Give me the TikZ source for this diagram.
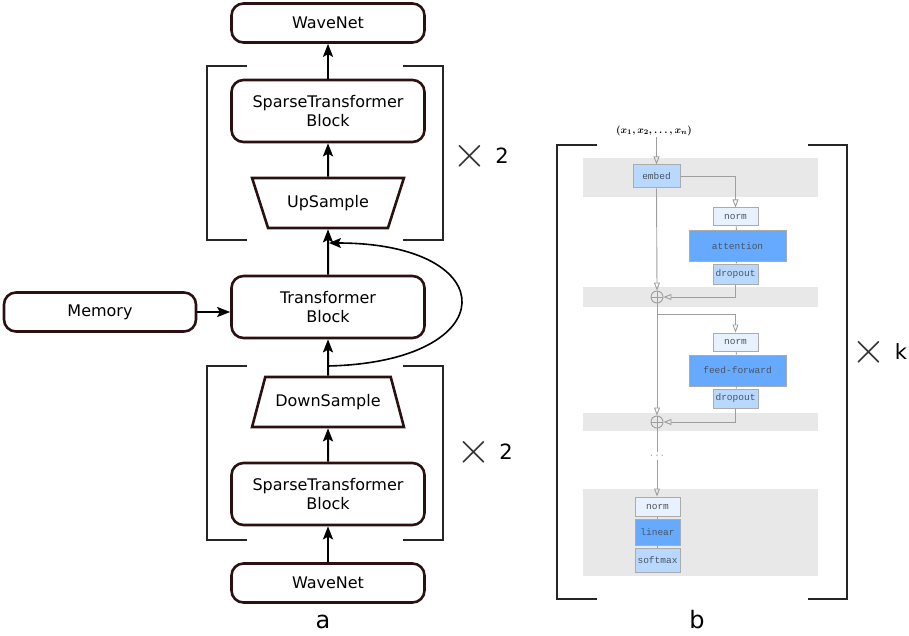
\documentclass[tikz,border=0pt]{standalone}
\usepackage{amsmath}
\usepackage[no-math]{fontspec}
\setmainfont{DejaVu Sans}
\newfontfamily\boxfont{Liberation Mono}
\usetikzlibrary{calc,positioning,arrows.meta,shapes.geometric}

\definecolor{blockedge}{HTML}{2A1010}
\definecolor{bandgray}{HTML}{E8E8E8}
\definecolor{boxline}{HTML}{ABABAB}
\definecolor{flowgray}{HTML}{9E9E9E}
\definecolor{labelgray}{HTML}{4A5560}
\definecolor{palebox}{HTML}{E8F2FF}
\definecolor{lightbox}{HTML}{B8D8FF}
\definecolor{midbox}{HTML}{66AAFF}

\newcommand{\inputseq}{{\boldmath$(x_1,x_2,\ldots,x_n)$}}
\newcommand{\bigtimes}{\scalebox{1.8}{$\times$}}

\tikzset{
  block/.style={draw=blockedge, line width=2.6pt, rounded corners=12pt, minimum width=193pt,
    minimum height=39pt, align=center, font=\fontsize{16}{19}\selectfont},
  tallblock/.style={block, minimum height=62pt},
  sampler/.style={draw=blockedge, line width=2.6pt, trapezium, trapezium stretches=true,
    trapezium angle=62, minimum width=152pt, minimum height=50pt, font=\fontsize{16}{19}\selectfont},
  arr/.style={line width=2pt, -{Stealth[length=13pt,width=10pt,inset=2.5pt]}},
  brack/.style={line width=1.7pt, draw=black!85},
  rbox/.style={draw=boxline, line width=1pt, inner sep=0pt, text=labelgray,
    font=\boxfont\fontsize{9.5}{11}\selectfont},
  smallbox/.style={rbox, minimum width=45pt, minimum height=18pt, fill=palebox},
  bigbox/.style={rbox, minimum width=97pt, minimum height=30pt, fill=midbox},
  flow/.style={draw=flowgray, line width=0.9pt},
  flowarr/.style={flow, -{Triangle[open,length=8pt,width=6pt]}},
  oplus/.style={circle, draw=flowgray, line width=0.9pt, minimum size=12pt, inner sep=0pt,
    path picture={\draw[flowgray, line width=0.9pt]
      (path picture bounding box.north) -- (path picture bounding box.south)
      (path picture bounding box.west) -- (path picture bounding box.east);}},
  timesmark/.style={font=\fontsize{24}{24}\selectfont, inner sep=0pt, text=black!80},
  countlabel/.style={font=\fontsize{21}{24}\selectfont, inner sep=0pt}
}

\begin{document}
\begin{tikzpicture}[x=1pt,y=-1pt]
  \useasboundingbox (0,0) rectangle (909,636);
  %\draw[color=gray,step=10pt, help lines,opacity=0.3] (0,0) grid (909,636); %help grids

  % ---- a: the stack
  \node[block] (wntop) at (328,23) {WaveNet};
  \node[tallblock] (sttop) at (328,111) {SparseTransformer\\Block};
  \node[sampler, shape border rotate=180] (up) at (328,203) {UpSample};
  \node[tallblock] (tb) at (328,307) {Transformer\\Block};
  \node[block, minimum width=192pt] (mem) at (100,312) {Memory};
  \node[sampler] (down) at (328,402) {DownSample};
  \node[tallblock] (stbot) at (328,494) {SparseTransformer\\Block};
  \node[block] (wnbot) at (328,583) {WaveNet};

  \draw[arr] (wnbot.north) -- (stbot.south);
  \draw[arr] (stbot.north) -- (down.south);
  \draw[arr] (down.north) -- (tb.south);
  \draw[arr] (tb.north) -- (up.south);
  \draw[arr] (up.north) -- (sttop.south);
  \draw[arr] (sttop.north) -- (wntop.south);
  \draw[arr] (mem.east) -- (mem.east -| tb.west);

  \coordinate (loopstart) at (328,366);
  \coordinate (loopend) at (329,243);
  \draw[line width=1.6pt, -{Stealth[length=12pt,width=10pt,inset=2.5pt]}]
    (loopstart) .. controls (505,362) and (505,243) .. (loopend);

  \draw[brack] (247,66) -- (207,66) -- (207,240) -- (247,240);
  \draw[brack] (403,66) -- (443,66) -- (443,240) -- (403,240);
  \draw[brack] (247,366) -- (207,366) -- (207,540) -- (247,540);
  \draw[brack] (403,366) -- (443,366) -- (443,540) -- (403,540);

  \node[timesmark] (timesup) at (470,156) {\bigtimes};
  \node[countlabel] (countup) at (502,156) {2};
  \node[timesmark] (timesdown) at (474,452) {\bigtimes};
  \node[countlabel] (countdown) at (506,452) {2};

  \node[font=\fontsize{24}{28}\selectfont, inner sep=0pt] (capa) at (323,622) {a};

  % ---- b: the layer
  \fill[bandgray] (583,158) rectangle (818,197);
  \fill[bandgray] (583,287) rectangle (818,307);
  \fill[bandgray] (583,413) rectangle (818,431);
  \fill[bandgray] (583,489) rectangle (818,576);

  \draw[brack] (597,145) -- (557,145) -- (557,599) -- (597,599);
  \draw[brack] (808,145) -- (847,145) -- (847,599) -- (808,599);

  \node[inner sep=1pt, font=\fontsize{10}{12}\selectfont] (xin) at (654,131) {\inputseq};
  \node[smallbox, minimum width=47pt, minimum height=23pt, fill=lightbox] (embed) at (656.5,176.5) {embed};
  \node[smallbox] (normA) at (735.5,217) {norm};
  \node[bigbox] (attn) at (737.5,246) {attention};
  \node[smallbox, minimum height=20pt, fill=lightbox] (dropA) at (735.5,274) {dropout};
  \node[oplus] (plusA) at (657,297) {};
  \coordinate (split) at (657,314);
  \node[smallbox] (normB) at (735.5,342) {norm};
  \node[bigbox, minimum height=31pt] (ff) at (737.5,370.5) {feed-forward};
  \node[smallbox, minimum height=19pt, fill=lightbox] (dropB) at (735.5,398.5) {dropout};
  \node[oplus] (plusB) at (657,422) {};
  \node[inner sep=3pt, text=flowgray, font=\boxfont\fontsize{9}{10}\selectfont] (dots) at (657,456) {...};
  \node[smallbox, minimum height=19pt] (normC) at (657.5,506.5) {norm};
  \node[smallbox, minimum height=26pt, fill=midbox] (linear) at (657.5,532) {linear};
  \node[smallbox, minimum height=24pt, fill=lightbox] (softmax) at (657.5,560) {softmax};

  \draw[flowarr] (xin.south -| embed.north) -- (embed.north);
  \draw[flowarr] (embed.east) -| (normA.north);
  \draw[flow] (normA) -- (attn) -- (dropA);
  \draw[flowarr] (embed.south) -- (plusA.north);
  \draw[flowarr] (dropA.south) |- (plusA.east);
  \draw[flowarr] (plusA.south) -- (plusB.north);
  \draw[flowarr] (split) -| (normB.north);
  \draw[flow] (normB) -- (ff) -- (dropB);
  \draw[flowarr] (dropB.south) |- (plusB.east);
  \draw[flow] (plusB.south) -- (dots.north);
  \draw[flowarr] (dots.south) -- (dots.south |- normC.north);
  \draw[flow] (normC) -- (linear) -- (softmax);

  \node[timesmark] (timesk) at (869,352) {\bigtimes};
  \node[countlabel] (countk) at (901,352) {k};

  \node[font=\fontsize{24}{28}\selectfont, inner sep=0pt] (capb) at (697,620) {b};
\end{tikzpicture}
\end{document}
